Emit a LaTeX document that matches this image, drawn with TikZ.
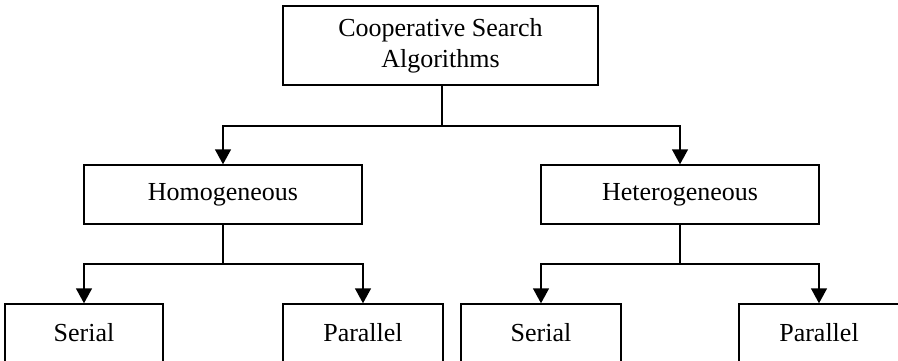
\documentclass[tikz,border=0pt]{standalone}
\usepackage{fontspec}
\setmainfont{Liberation Serif}
\usetikzlibrary{arrows.meta}
\begin{document}
\begin{tikzpicture}[x=1pt,y=-1pt,
  box/.style={draw=black,line width=1.4pt,fill=white,inner sep=0pt,
    align=center,font=\fontsize{26}{31}\selectfont},
  link/.style={draw=black,line width=1.4pt},
  arr/.style={link,-{Triangle[length=15pt,width=16pt]}}]
\useasboundingbox (0,0) rectangle (898,361);
\clip (0,0) rectangle (898,361);
% root
\node[box,minimum width=315pt,minimum height=79pt] (top) at (440.5,45.5)
  {Cooperative Search\\Algorithms};
% second level
\node[box,minimum width=278pt,minimum height=59pt] (homo) at (223,194.5) {Homogeneous};
\node[box,minimum width=278pt,minimum height=59pt] (hetero) at (680,194.5) {Heterogeneous};
% leaves (run past the lower edge)
\node[box,minimum width=158pt,minimum height=58pt] (s1) at (84,333) {Serial};
\node[box,minimum width=160pt,minimum height=58pt] (p1) at (363,333) {Parallel};
\node[box,minimum width=160pt,minimum height=58pt] (s2) at (541,333) {Serial};
\node[box,minimum width=160pt,minimum height=58pt] (p2) at (819,333) {Parallel};
% junctions
\coordinate (j0) at (442,126);
\coordinate (j1) at (223,264);
\coordinate (j2) at (680,264);
% connectors
\draw[link] (top.south -| j0) -- (j0);
\draw[arr] (j0) -| (homo.north);
\draw[arr] (j0) -| (hetero.north);
\draw[link] (homo.south) -- (j1);
\draw[arr] (j1) -| (s1.north);
\draw[arr] (j1) -| (p1.north);
\draw[link] (hetero.south) -- (j2);
\draw[arr] (j2) -| (s2.north);
\draw[arr] (j2) -| (p2.north);
\end{tikzpicture}
\end{document}
